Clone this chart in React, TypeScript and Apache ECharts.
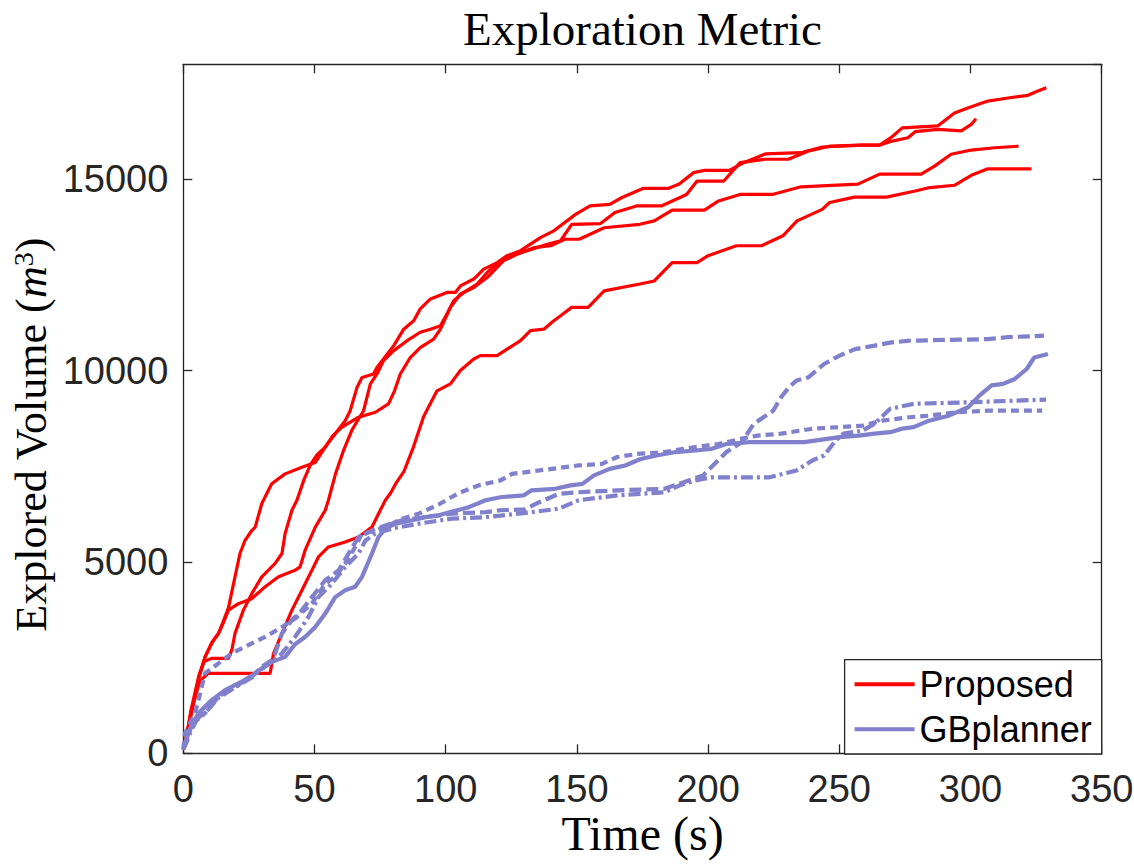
import React, { useEffect, useRef } from 'react';
import * as echarts from 'echarts';

// ---- Data: [time (s), explored volume (m^3)] ----
const proposedRun1 = [
  [0, 100], [1, 300], [2, 700], [3, 1100], [4.5, 1480], [6, 2000], [8.3, 2520], [11, 2900], [13.4, 3130], [15, 3400],
  [17.2, 3800], [19.7, 4610], [21.6, 5220], [23.5, 5560], [26.1, 5820], [27.4, 5910], [29.9, 6520], [31.2, 6700],
  [33.7, 7040], [38.8, 7300], [45.2, 7470], [50.3, 7600], [54.1, 8000], [57.9, 8350], [61.7, 8690], [63.6, 8950],
  [66.2, 9560], [68.1, 9820], [72.5, 9910], [73.8, 10080], [76.3, 10300], [80.2, 10650], [84, 11080], [87.8, 11300],
  [90.3, 11610], [94.2, 11870], [100.5, 12040], [103.7, 12040], [105.6, 12210], [110.7, 12390], [114.5, 12650],
  [119.6, 12820], [123.4, 13000], [128.5, 13130], [136.1, 13470], [141.2, 13650], [149.5, 14080], [155, 14300],
  [162.5, 14340], [167.2, 14520], [175.4, 14760], [185, 14760], [189, 14870], [194.5, 15170], [198.6, 15230],
  [208.1, 15230], [213.6, 15430], [221.8, 15660], [235.4, 15690], [243.5, 15840], [258.5, 15890], [265.4, 15890],
  [270, 16100], [274, 16340], [287.5, 16390], [293.9, 16730], [299, 16860], [306.6, 17040], [314.3, 17120],
  [321.9, 17190], [325.7, 17300], [328.9, 17390]
];

const proposedRun2 = [
  [0, 100], [1, 300], [2, 700], [3, 1100], [4.5, 1480], [6, 2000], [8.3, 2520], [11, 2900], [13.4, 3130], [15.5, 3450],
  [17.2, 3740], [21, 3910], [26.1, 4040], [31.2, 4350], [36.3, 4610], [42.6, 4780], [44.5, 4870], [46.4, 5300],
  [50.3, 5910], [54.1, 6350], [55.3, 6610], [58, 7300], [61, 7900], [64.3, 8450], [66.5, 8700], [68.7, 8950],
  [71.3, 9650], [73.8, 9910], [76.3, 10260], [80.2, 10520], [85.3, 10780], [90.3, 11000], [94.2, 11080], [98, 11170],
  [100.5, 11480], [103, 11820], [106.9, 12040], [112, 12260], [115.8, 12560], [120.9, 12870], [126, 13040],
  [131.1, 13130], [138.7, 13300], [143.8, 13390], [148, 13820], [159, 13840], [164.5, 14130], [172.7, 14300],
  [182.2, 14300], [191.8, 14600], [195.8, 14950], [206, 14950], [212.2, 15430], [221.8, 15520], [230.6, 15520],
  [238, 15730], [246.3, 15860], [258.5, 15890], [265.4, 15890], [269.3, 15980], [276.2, 16080], [278.9, 16240],
  [287.5, 16300], [296.5, 16260], [300.3, 16430], [302.1, 16580]
];

const proposedRun3 = [
  [0, 100], [1, 350], [2, 750], [3, 1150], [4.5, 1600], [6, 2050], [8, 2400], [10.8, 2480], [17.2, 2480], [18.5, 2700],
  [19.7, 3130], [22.9, 3740], [26.1, 4170], [29.9, 4610], [35, 4960], [37.6, 5220], [38.8, 5740], [41.4, 6350],
  [43.3, 6610], [46, 7150], [48.5, 7550], [51, 7800], [54.1, 8000], [57, 8300], [60.5, 8520], [66.8, 8780],
  [73.2, 8910], [78.2, 9130], [80.5, 9470], [82.7, 9910], [86.5, 10340], [90.3, 10600], [95.4, 10820], [98, 11080],
  [101.8, 11650], [105.6, 12000], [110.7, 12170], [115.8, 12430], [122.1, 12870], [127.3, 13040], [133.6, 13210],
  [140, 13260], [145.4, 13430], [150.9, 13430], [160.4, 13730], [174, 13820], [179.5, 13910], [186.3, 14190],
  [198.6, 14190], [204, 14430], [212.2, 14600], [224.5, 14600], [235.4, 14800], [257.1, 14870], [265.4, 15130],
  [281.2, 15130], [286.3, 15340], [292.6, 15650], [300.3, 15760], [309.2, 15820], [318.3, 15860]
];

const proposedRun4 = [
  [0, 100], [0.5, 200], [1.5, 600], [3, 1000], [4.5, 1500], [6.5, 1900], [9.5, 2090], [33.1, 2090], [34.4, 2610],
  [37.6, 3130], [41.4, 3740], [45.2, 4260], [49, 4780], [51.5, 5130], [55.3, 5390], [61.7, 5520], [66.8, 5650],
  [71.9, 5910], [74.4, 6260], [77, 6610], [79, 6800], [81, 7050], [84, 7350], [87.7, 8000], [91.6, 8800],
  [95.4, 9300], [96.7, 9470], [101.8, 9650], [105.6, 10000], [110.7, 10300], [113.2, 10390], [119.6, 10390],
  [123.4, 10560], [128.5, 10780], [132.3, 11040], [137.4, 11080], [141.2, 11300], [143.8, 11430], [148, 11650],
  [154.3, 11650], [160.4, 12080], [174, 12260], [179.5, 12340], [186.3, 12820], [195.8, 12820], [200, 13000],
  [210.8, 13260], [220.4, 13260], [228.5, 13520], [233.9, 13910], [243.5, 14210], [246.3, 14390], [255.8, 14530],
  [268, 14530], [278.9, 14690], [284.5, 14780], [293.9, 14840], [300.3, 15100], [306.6, 15270], [323.2, 15270]
];

const gbRun1 = [
  [0, 100], [0.6, 260], [3, 700], [5.7, 1040], [10.8, 1390], [15.9, 1650], [22.3, 1870], [27.4, 2090], [32.4, 2350],
  [38.8, 2520], [42.6, 2850], [46.4, 3040], [50.3, 3300], [54.1, 3650], [57.9, 4080], [61.7, 4260], [65.5, 4350],
  [68.1, 4610], [71.9, 5220], [74.4, 5650], [77, 5870], [80.8, 6000], [87.2, 6090], [92.2, 6170], [97.3, 6220],
  [108.8, 6430], [115.2, 6610], [120.9, 6690], [129.8, 6740], [132.7, 6870], [141.7, 6910], [147.6, 7000],
  [152.1, 7040], [156.5, 7260], [162.5, 7430], [168.4, 7520], [174.3, 7690], [180.3, 7780], [187.7, 7870],
  [195.2, 7910], [201.1, 7950], [207, 8080], [215.9, 8130], [236.7, 8130], [242.7, 8190], [250.1, 8260],
  [257.5, 8300], [263.4, 8350], [269.4, 8390], [273.9, 8480], [278.3, 8520], [284.2, 8690], [291.7, 8820],
  [299.1, 9040], [303.5, 9350], [308, 9610], [312.4, 9650], [316.9, 9780], [321.4, 10040], [324.3, 10340],
  [329.5, 10430]
];

const gbRun2 = [
  [0, 100], [1, 300], [3, 700], [5, 900], [8.3, 1050], [13.4, 1480], [19.7, 1740], [26.1, 2000], [29.9, 2260],
  [33.7, 2430], [35, 2610], [37.6, 3130], [41.4, 3480], [45.2, 3740], [49, 4080], [54.1, 4520], [59.2, 4780],
  [63, 5220], [66.8, 5650], [71.9, 5820], [77, 5950], [83.4, 6090], [92.2, 6170], [102.4, 6260], [115.2, 6300],
  [120.9, 6350], [130, 6370], [135.7, 6560], [143.2, 6780], [150.6, 6820], [165.4, 6870], [183.3, 6910],
  [190.7, 7080], [198.1, 7260], [207, 7870], [212.9, 8130], [217.4, 8610], [224.8, 8950], [227.8, 9300],
  [230.8, 9560], [233.7, 9740], [238.2, 9820], [244.2, 10170], [250.1, 10390], [256, 10560], [263.4, 10650],
  [269.4, 10730], [276.8, 10780], [306.5, 10820], [313.9, 10870], [328, 10910]
];

const gbRun3 = [
  [0, 100], [1, 250], [3, 600], [5, 850], [8.3, 1050], [13.4, 1450], [19.7, 1720], [26.1, 1980], [29.9, 2200],
  [33.7, 2380], [37.6, 2610], [42.6, 3040], [47.7, 3560], [51.5, 4080], [56.6, 4430], [61.7, 4870], [66.8, 5220],
  [69.4, 5560], [73.2, 5740], [79.5, 5870], [89.7, 6000], [102.4, 6130], [115.2, 6170], [120.9, 6210],
  [132.7, 6300], [143.2, 6390], [150.6, 6610], [165.4, 6740], [183.3, 6820], [189.2, 7000], [195.2, 7130],
  [201.1, 7210], [223.4, 7210], [233.7, 7390], [239.7, 7650], [244.2, 7780], [248.6, 8170], [251.6, 8350],
  [259, 8430], [263.4, 8610], [269.4, 9000], [278.3, 9130], [299.1, 9170], [328.8, 9240]
];

const gbRun4 = [
  [0, 100], [0.6, 520], [4.5, 1040], [8.3, 2090], [13.4, 2350], [18.5, 2610], [26.1, 2870], [31.2, 3040],
  [37.6, 3300], [42.6, 3520], [49, 3910], [54.1, 4430], [57.9, 4610], [61.7, 4960], [65.5, 5390], [68.1, 5740],
  [73.2, 5820], [78.2, 5950], [83.4, 6130], [89.7, 6260], [97.3, 6500], [105, 6800], [112.6, 7000], [120.9, 7130],
  [125.3, 7300], [135.7, 7390], [150.6, 7520], [159.5, 7560], [165.4, 7740], [172.9, 7820], [183.3, 7870],
  [195.2, 8000], [204, 8080], [212.9, 8220], [218.9, 8300], [227.8, 8350], [239.7, 8480], [250.1, 8520],
  [259, 8560], [266.4, 8690], [276.8, 8780], [284.2, 8820], [294.6, 8910], [306.5, 8950], [327.3, 8950]
];

const proposedRuns = [proposedRun1, proposedRun2, proposedRun3, proposedRun4];
const gbRuns = [gbRun1, gbRun2, gbRun3, gbRun4];
const gbDash: any[] = ['solid', [12, 5], [12, 4, 3, 4], [8, 5]];
const legendNames = ['Proposed', 'GBplanner'];

const RED = '#ff0000';
const BLUE = '#8080cc';
const AXIS = '#262626';
const SANS = 'Liberation Sans, Arial, Helvetica, sans-serif';
const SERIF = 'Liberation Serif, Times New Roman, serif';

export default function App() {
  const ref = useRef<HTMLDivElement>(null);

  useEffect(() => {
    const chart = echarts.init(ref.current as HTMLDivElement, null, { renderer: 'svg' });

    const redSeries = proposedRuns.map((d) => ({
      type: 'line',
      name: legendNames[0],
      data: d,
      symbol: 'none',
      showSymbol: false,
      silent: true,
      lineStyle: { color: RED, width: 3.2 },
      itemStyle: { color: RED },
      emphasis: { disabled: true },
    }));
    const blueSeries = gbRuns.map((d, i) => ({
      type: 'line',
      name: legendNames[1],
      data: d,
      symbol: 'none',
      showSymbol: false,
      silent: true,
      lineStyle: { color: BLUE, width: 4.2, type: gbDash[i] },
      itemStyle: { color: BLUE },
      emphasis: { disabled: true },
    }));

    const baseAxisLine = { show: true, onZero: false, lineStyle: { color: AXIS, width: 1.3 } };
    const tick = { show: true, inside: true, length: 9, lineStyle: { color: AXIS, width: 1.3 } };

    chart.setOption({
      animation: false,
      backgroundColor: '#ffffff',
      grid: {
        left: 183.3, right: 32.3, top: 64.3, bottom: 114.7,
        containLabel: false, outerBoundsMode: 'none',
      },
      graphic: [
        {
          type: 'text',
          x: 642.5,
          y: 29,
          style: {
            text: 'Exploration Metric',
            fill: '#000',
            font: 'normal 47px ' + SERIF,
            textAlign: 'center',
            textVerticalAlign: 'middle',
          },
        },
      ],
      legend: {
        data: legendNames,
        orient: 'vertical',
        align: 'left',
        right: 32.3,
        bottom: 114,
        itemWidth: 60,
        itemHeight: 36,
        itemGap: 9,
        padding: [6.7, 10, 6.7, 8],
        backgroundColor: '#ffffff',
        borderColor: AXIS,
        borderWidth: 1.3,
        borderRadius: 0,
        selectedMode: false,
        itemStyle: { opacity: 0 },
        lineStyle: { width: 4 },
        textStyle: { fontSize: 36, color: '#000', fontFamily: SANS },
      },
      xAxis: [
        {
          type: 'value',
          min: 0, max: 350, interval: 50,
          position: 'bottom',
          name: 'Time (s)',
          nameLocation: 'middle',
          nameGap: 60,
          nameMoveOverlap: false,
          nameTextStyle: { fontSize: 48, lineHeight: 40, color: '#000', fontFamily: SERIF },
          axisLine: baseAxisLine,
          axisTick: tick,
          splitLine: { show: false },
          axisLabel: {
            fontSize: 38, lineHeight: 32, color: AXIS, fontFamily: SANS, margin: 20,
            formatter: (v: number) => String(v),
          },
        },
        {
          type: 'value',
          min: 0, max: 350, interval: 50,
          position: 'top',
          axisLine: baseAxisLine,
          axisTick: tick,
          splitLine: { show: false },
          axisLabel: { show: false },
        },
      ],
      yAxis: [
        {
          type: 'value',
          min: 0, max: 18000, interval: 5000,
          position: 'left',
          name: 'Explored Volume ({i|m}{s|3})',
          nameLocation: 'middle',
          nameGap: 130,
          nameMoveOverlap: false,
          nameTextStyle: {
            fontSize: 44, color: '#000', fontFamily: SERIF,
            padding: [0, 52, 0, 0],
            rich: {
              i: { fontSize: 44, fontStyle: 'italic', fontFamily: SERIF, color: '#000' },
              s: { fontSize: 28, fontFamily: SERIF, color: '#000', verticalAlign: 'top' },
            },
          },
          axisLine: baseAxisLine,
          axisTick: tick,
          splitLine: { show: false },
          axisLabel: {
            fontSize: 38, color: AXIS, fontFamily: SANS, margin: 15, showMaxLabel: false,
            formatter: (v: number) => (v > 15000 ? '' : String(v)),
          },
        },
        {
          type: 'value',
          min: 0, max: 18000, interval: 5000,
          position: 'right',
          axisLine: baseAxisLine,
          axisTick: tick,
          splitLine: { show: false },
          axisLabel: { show: false },
        },
      ],
      series: [...redSeries, ...blueSeries],
    });

    return () => chart.dispose();
  }, []);

  return (
    <div
      ref={ref}
      style={{ position: 'absolute', left: 0, top: 0, width: 1134, height: 868, background: '#fff' }}
    />
  );
}
